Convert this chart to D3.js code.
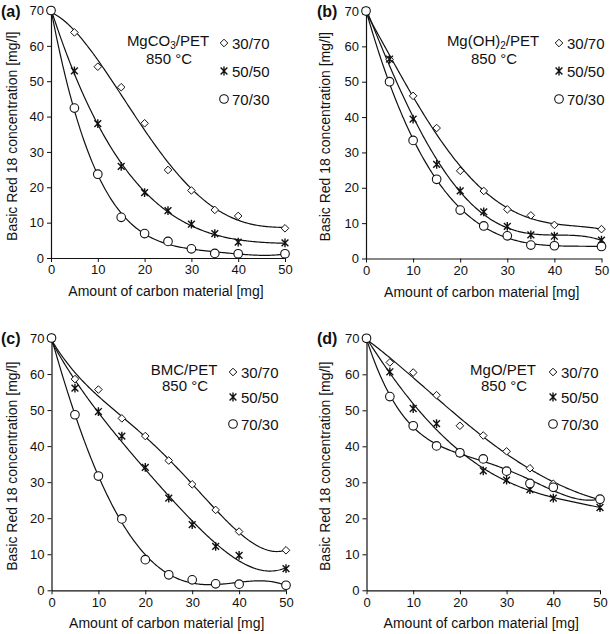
<!DOCTYPE html>
<html><head><meta charset="utf-8">
<script src="https://cdn.jsdelivr.net/npm/d3@7"></script>
<style>
html,body{margin:0;padding:0;background:#fff;}
svg text{font-family:"Liberation Sans",Arial,Helvetica,sans-serif;fill:#111;}
</style>
</head><body>
<svg id="chart" width="610" height="634"></svg>
<script>
// ---------- data ----------
const doses = [0, 5, 10, 15, 20, 25, 30, 35, 40, 50];
const xTicks = [0, 10, 20, 30, 40, 50];
const yTicks = [0, 10, 20, 30, 40, 50, 60, 70];
const ratios = ["30/70", "50/50", "70/30"];
const panelLabels = ["(a)", "(b)", "(c)", "(d)"];
const panelTitles = ["MgCO3/PET", "Mg(OH)2/PET", "BMC/PET", "MgO/PET"];
const tempLabel = "850 °C";
const xTitle = "Amount of carbon material [mg]";
const yTitle = "Basic Red 18 concentration [mg/l]";

const a_30_70 = [70, 63.8, 54.1, 48.3, 38.1, 24.9, 19.1, 13.6, 11.9, 8.4];
const a_50_50 = [70, 52.9, 38.0, 25.9, 18.5, 13.4, 9.6, 6.9, 4.5, 4.3];
const a_70_30 = [70, 42.4, 23.7, 11.5, 6.9, 4.7, 2.6, 1.3, 1.2, 1.2];

const b_30_70 = [70, 56.3, 46.0, 36.9, 24.8, 19.1, 13.9, 12.2, 9.5, 8.3];
const b_50_50 = [70, 56.4, 39.4, 26.6, 19.1, 13.2, 9.1, 6.7, 6.3, 5.2];
const b_70_30 = [70, 50.0, 33.4, 22.4, 13.7, 9.2, 6.4, 3.8, 3.6, 3.4];

const c_30_70 = [70, 58.6, 55.7, 47.7, 42.8, 36.0, 29.4, 22.3, 16.3, 11.1];
const c_50_50 = [70, 56.1, 49.6, 42.8, 34.1, 25.6, 18.2, 12.2, 9.7, 6.0];
const c_70_30 = [70, 48.7, 31.7, 19.8, 8.5, 4.3, 2.9, 1.8, 1.7, 1.4];

const d_30_70 = [70, 63.3, 60.5, 54.2, 45.7, 43.0, 38.6, 33.9, 29.6, 25.2];
const d_50_50 = [70, 60.7, 50.5, 46.3, 38.2, 33.2, 30.6, 28.0, 25.6, 23.0];
const d_70_30 = [70, 53.8, 45.7, 40.1, 38.2, 36.5, 33.1, 29.7, 28.6, 25.3];

// ---------- layout ----------
const panels = [
  {series: [a_30_70, a_50_50, a_70_30], x: [51, 285], y: [258, 10.5], deg: [4, 4, 4]},
  {series: [b_30_70, b_50_50, b_70_30], x: [366, 601.5], y: [258.5, 11], deg: [4, 4, 4]},
  {series: [c_30_70, c_50_50, c_70_30], x: [51.5, 286], y: [590.3, 338], deg: [4, 4, 4]},
  {series: [d_30_70, d_50_50, d_70_30], x: [366.5, 600], y: [590.3, 338.3], deg: [4, 4, 4]}
];

// polynomial least squares fit
function polyfit(xs, ys, deg) {
  const n = deg + 1, s = 50;
  const A = Array.from({length: n}, () => new Array(n + 1).fill(0));
  xs.forEach((x0, k) => {
    const x = x0 / s;
    for (let i = 0; i < n; i++) {
      for (let j = 0; j < n; j++) A[i][j] += Math.pow(x, i + j);
      A[i][n] += ys[k] * Math.pow(x, i);
    }
  });
  for (let c = 0; c < n; c++) {
    let p = c;
    for (let r = c + 1; r < n; r++) if (Math.abs(A[r][c]) > Math.abs(A[p][c])) p = r;
    [A[c], A[p]] = [A[p], A[c]];
    for (let r = 0; r < n; r++) {
      if (r === c) continue;
      const f = A[r][c] / A[c][c];
      for (let k = c; k <= n; k++) A[r][k] -= f * A[c][k];
    }
  }
  const coef = A.map((row, i) => row[n] / row[i]);
  return x => coef.reduce((acc, c, i) => acc + c * Math.pow(x / s, i), 0);
}

const svg = d3.select("#chart");

const diamond = "M0,-3.8L3.8,0L0,3.8L-3.8,0Z";
const star = "M-3.4,-3.4L3.4,3.4M-3.4,3.4L3.4,-3.4M0,-4.4L0,4.4";
function drawMarker(g, type, cx, cy) {
  if (type === 0) {
    g.append("path").attr("d", diamond).attr("transform", `translate(${cx},${cy})`)
      .attr("fill", "#fff").attr("stroke", "#111").attr("stroke-width", 1);
  } else if (type === 1) {
    g.append("path").attr("d", star).attr("transform", `translate(${cx},${cy})`)
      .attr("fill", "none").attr("stroke", "#111").attr("stroke-width", 1.4);
  } else {
    g.append("circle").attr("cx", cx).attr("cy", cy).attr("r", 4.3)
      .attr("fill", "#fff").attr("stroke", "#111").attr("stroke-width", 1.1);
  }
}

panels.forEach((p, pi) => {
  const g = svg.append("g");
  const x = d3.scaleLinear().domain([0, 50]).range(p.x);
  const y = d3.scaleLinear().domain([0, 70]).range(p.y);

  // axes
  const yAxis = d3.axisLeft(y).tickValues(yTicks).tickSize(4).tickPadding(3).tickSizeOuter(0);
  const xAxis = d3.axisBottom(x).tickValues(xTicks).tickSize(4).tickPadding(3).tickSizeOuter(0);
  const gy = g.append("g").attr("transform", `translate(${p.x[0]},0)`).call(yAxis);
  const gx = g.append("g").attr("transform", `translate(0,${p.y[0]})`).call(xAxis);
  [gx, gy].forEach(a => {
    a.select(".domain").attr("stroke", "#111").attr("stroke-width", 1.2);
    a.selectAll(".tick line").attr("stroke", "#111").attr("stroke-width", 1);
    a.selectAll(".tick text").attr("font-size", 13).attr("fill", "#111")
      .style("font-family", '"Liberation Sans",Arial,sans-serif');
  });

  // fitted lines
  const line = d3.line().x(d => x(d[0])).y(d => y(d[1])).curve(d3.curveLinear);
  p.series.forEach((vals, si) => {
    const f = polyfit(doses, vals, p.deg[si]);
    const pts = d3.range(0, 50.01, 0.25).map(t => [t, f(t)]);
    g.append("path").attr("d", line(pts)).attr("fill", "none")
      .attr("stroke", "#111").attr("stroke-width", 1.2);
  });
  // markers
  p.series.forEach((vals, si) => {
    vals.forEach((v, i) => drawMarker(g, si, x(doses[i]), y(v)));
  });

  // panel label
  const left = pi % 2 === 0 ? 0 : 316;
  const top = pi < 2 ? 0 : 327;
  g.append("text").attr("x", left + 1).attr("y", top + 17).attr("font-size", 16)
    .attr("font-weight", "bold").text(panelLabels[pi]);

  // axis titles
  const xmid = (p.x[0] + p.x[1]) / 2;
  g.append("text").attr("x", xmid - 2).attr("y", p.y[0] + 38).attr("text-anchor", "middle")
    .attr("font-size", 14).text(xTitle);
  const ymid = (p.y[0] + p.y[1]) / 2;
  const yx = pi % 2 === 0 ? 17 : 330;
  g.append("text").attr("transform", `translate(${yx},${ymid + 2}) rotate(-90)`)
    .attr("text-anchor", "middle").attr("font-size", 14).text(yTitle);

  // legend title
  const ttlX = [168, 493, 184, 503][pi];
  const ttlY = top + (pi < 2 ? 46 : 48);
  const t = g.append("text").attr("x", ttlX).attr("y", ttlY).attr("text-anchor", "middle").attr("font-size", 15);
  const title = panelTitles[pi];
  const m = title.match(/^(.*?)(\d)(\/PET)$/);
  if (m && pi < 2) {
    t.append("tspan").text(m[1]);
    t.append("tspan").attr("font-size", 10).attr("dy", 3).text(m[2]);
    t.append("tspan").attr("dy", -3).text(m[3]);
  } else {
    t.text(title);
  }
  g.append("text").attr("x", ttlX + 1).attr("y", ttlY + (pi < 2 ? 18 : 16)).attr("text-anchor", "middle")
    .attr("font-size", 15).text(tempLabel);

  // legend entries
  const mx = [224, 559, 233, 553][pi];
  const ly0 = pi < 2 ? [43, 71, 99] : [372, 397, 424];
  ratios.forEach((r, si) => {
    drawMarker(g, si, mx, ly0[si]);
    g.append("text").attr("x", mx + 8).attr("y", ly0[si] + 5.5).attr("font-size", 15).text(r);
  });
});
</script>
</body></html>
